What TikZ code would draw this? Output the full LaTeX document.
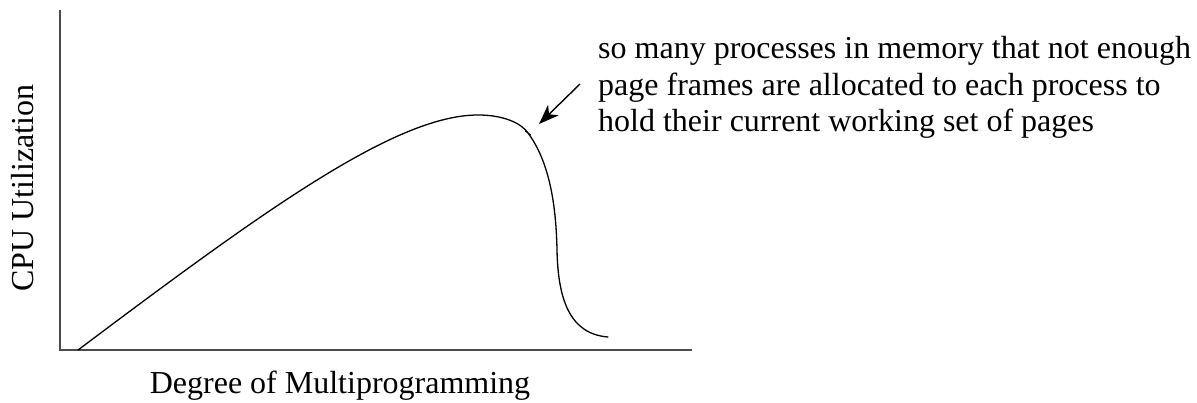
\documentclass[tikz,border=0pt]{standalone}
\usepackage{fontspec}
\setmainfont{Liberation Serif}
\usetikzlibrary{arrows.meta}
\begin{document}
\begin{tikzpicture}[x=1pt,y=-1pt,
  axis/.style={draw=black!70,line width=2pt},
  curve/.style={draw=black,line width=1.3pt,line cap=round},
  pointer/.style={draw=black,line width=1.4pt,-{Stealth[length=20pt,width=15pt,inset=6pt]}},
  label/.style={inner sep=0pt,font=\fontsize{32}{36.5}\selectfont}]
\useasboundingbox (0,0) rectangle (1197,403);
% axes
\coordinate (ytop) at (60,10);
\coordinate (org) at (60,350);
\coordinate (xend) at (692,350);
\draw[axis] (ytop) -- (org) -- (xend);
% utilisation curve: slow rise, peak, then collapse (thrashing)
\draw[curve] (78,350) .. controls (262,212) and (395,115) .. (478,115)
  .. controls (505,115) and (522,124) .. (528,133)
  .. controls (548,160) and (556,200) .. (557,250)
  .. controls (558,300) and (570,334) .. (608,337);
\draw[line width=0.8pt] (525,131) -- (531,135);
% annotation
\node[label,anchor=base west,align=left] (note) at (598,132)
  {so many processes in memory that not enough\\
   page frames are allocated to each process to\\
   hold their current working set of pages};
\coordinate (tail) at (580,84);
\coordinate (tip) at (539,124);
\draw[pointer] (tail) -- (tip);
% axis labels
\node[label,anchor=base] (xlab) at (340,393) {Degree of Multiprogramming};
\node[label,anchor=base,rotate=90] (ylab) at (33,188) {CPU Utilization};
\end{tikzpicture}
\end{document}
